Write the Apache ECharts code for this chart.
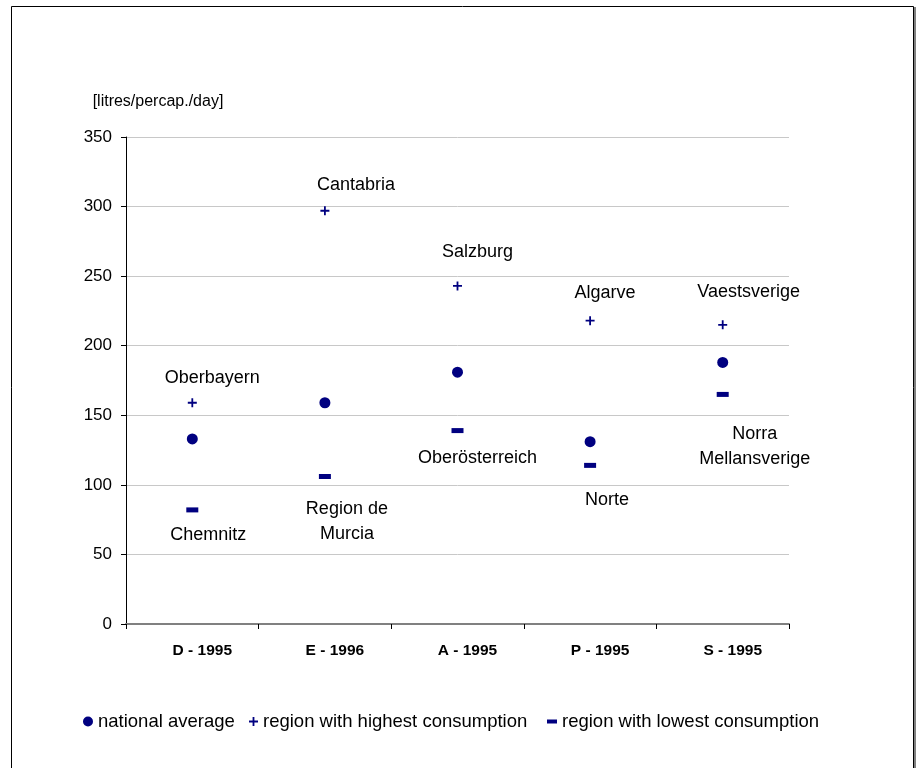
<!DOCTYPE html>
<html>
<head>
<meta charset="utf-8">
<title>water consumption</title>
<script src="https://cdn.jsdelivr.net/npm/echarts@6/dist/echarts.min.js"></script>
<style>
  html, body { margin: 0; padding: 0; background: #fff; }
  #main { width: 916px; height: 768px; }
</style>
</head>
<body>
<div id="main"></div>
<script>
// 数据
const categories = ['D - 1995', 'E - 1996', 'A - 1995', 'P - 1995', 'S - 1995']
const nationalAvg = [133, 159, 181, 131, 188]
const highest = [159, 297, 243, 218, 215]
const lowest = [82, 106, 139, 114, 165]
const highNames = ['Oberbayern', 'Cantabria', 'Salzburg', 'Algarve', 'Vaestsverige']
const lowNames = ['Chemnitz', 'Region de\nMurcia', 'Oberösterreich', 'Norte', 'Norra\nMellansverige']
const yTicks = [0, 50, 100, 150, 200, 250, 300, 350]

// 标签偏移（样式）
const highOffsets = [[20, -25], [31, -26], [20, -34], [15, -28], [26, -33]]
const lowOffsets = [[16, 25], [22, 45], [20, 27], [17, 35], [32, 52]]

const navy = '#000080'
const font = 'Liberation Sans, Arial, sans-serif'
const plusPath = 'path://M4,0H6V4H10V6H6V10H4V6H0V4H4Z'

function withLabels(values, names, offsets) {
  return values.map((v, i) => ({
    value: v,
    label: {
      show: true,
      position: 'inside',
      offset: offsets[i],
      formatter: names[i],
      color: '#000',
      fontSize: 18,
      lineHeight: 25,
      fontFamily: font
    }
  }))
}

function legendItem(name, icon, left, w, h) {
  return {
    data: [{ name: name, icon: icon }],
    left: left, top: 712, padding: 0,
    itemWidth: w, itemHeight: h, itemGap: 0,
    textStyle: { fontSize: 18.5, color: '#000', fontFamily: font }
  }
}

let myChart = echarts.init(document.getElementById('main'))
myChart.setOption({
  animation: false,
  backgroundColor: '#fff',
  textStyle: { fontFamily: font },
  grid: { left: 126, right: 127, top: 137, bottom: 144 },
  graphic: [
    { type: 'rect', shape: { x: 11.5, y: 6.5, width: 902, height: 800 },
      style: { fill: 'none', stroke: '#000', lineWidth: 1 }, silent: true },
    { type: 'rect', shape: { x: 914, y: 7, width: 2, height: 800 },
      style: { fill: '#808080' }, silent: true }
  ],
  legend: [
    legendItem('national average', 'circle', 83, 10, 10),
    legendItem('region with highest consumption', plusPath, 249, 9, 9),
    legendItem('region with lowest consumption', 'rect', 547, 10, 4)
  ],
  xAxis: {
    type: 'category',
    data: categories,
    boundaryGap: true,
    axisLine: { lineStyle: { color: '#808080', width: 2 } },
    axisTick: { show: true, length: 5, lineStyle: { color: '#000' } },
    axisLabel: { fontSize: 15.5, fontWeight: 'bold', color: '#000', margin: 19,
      padding: [0, 0, 0, 20], fontFamily: font },
    splitLine: { show: false }
  },
  yAxis: {
    type: 'value',
    min: yTicks[0],
    max: yTicks[yTicks.length - 1],
    interval: 50,
    name: '[litres/percap./day]',
    nameLocation: 'end',
    nameGap: 27,
    nameTextStyle: { fontSize: 16, color: '#000', fontFamily: font, padding: [0, 0, 0, 64] },
    axisLine: { show: true, lineStyle: { color: '#000', width: 1 } },
    axisTick: { show: true, length: 5, lineStyle: { color: '#000' } },
    axisLabel: { fontSize: 17, color: '#000', margin: 14, fontFamily: font },
    splitLine: { show: true, lineStyle: { color: '#c8c8c8', width: 1 } }
  },
  series: [
    {
      name: 'national average',
      type: 'scatter',
      data: nationalAvg,
      symbol: 'circle',
      symbolSize: 11,
      itemStyle: { color: navy, opacity: 1 }
    },
    {
      name: 'region with highest consumption',
      type: 'scatter',
      data: withLabels(highest, highNames, highOffsets),
      symbol: plusPath,
      symbolSize: 9,
      itemStyle: { color: navy, opacity: 1 }
    },
    {
      name: 'region with lowest consumption',
      type: 'scatter',
      data: withLabels(lowest, lowNames, lowOffsets),
      symbol: 'rect',
      symbolSize: [12, 5],
      itemStyle: { color: navy, opacity: 1 }
    }
  ]
})
</script>
</body>
</html>
